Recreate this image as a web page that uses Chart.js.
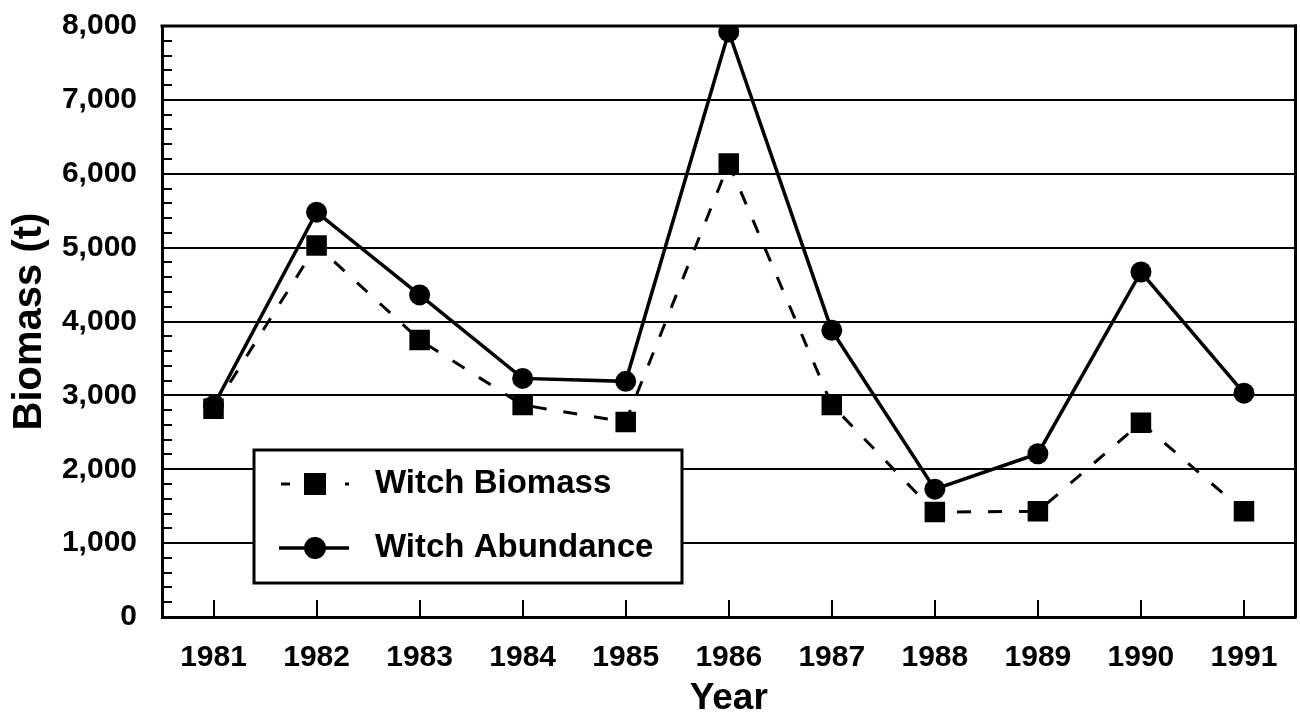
<!DOCTYPE html>
<html>
<head>
<meta charset="utf-8">
<script src="https://cdn.jsdelivr.net/npm/chart.js@4/dist/chart.umd.min.js"></script>
<style>
  html, body { margin: 0; padding: 0; background: #fff; overflow: hidden; }
  #wrap { width: 1300px; height: 721px; position: relative; overflow: hidden; }
</style>
</head>
<body>
<div id="wrap"><canvas id="c" width="1310" height="721"></canvas></div>
<script>
// ---- data ----
const years = ['1981','1982','1983','1984','1985','1986','1987','1988','1989','1990','1991'];
const witchBiomass = [2820, 5030, 3750, 2870, 2640, 6140, 2870, 1420, 1430, 2630, 1430];
const witchAbundance = [2860, 5480, 4360, 3230, 3190, 7920, 3880, 1730, 2210, 4670, 3030];
const yTicks = [0, 1000, 2000, 3000, 4000, 5000, 6000, 7000, 8000];
const seriesNames = ['Witch Biomass', 'Witch Abundance'];

const FONT = '"Liberation Sans", Arial, Helvetica, sans-serif';

const frame = {
  id: 'frame',
  afterDatasetsDraw(chart) {
    const { ctx, chartArea: a, scales } = chart;
    ctx.save();
    ctx.strokeStyle = '#000';
    ctx.lineWidth = 3;
    ctx.beginPath();
    ctx.moveTo(a.right, a.top - 1.5);
    ctx.lineTo(a.right, a.bottom + 1.5);
    ctx.stroke();
    ctx.beginPath();
    ctx.moveTo(a.left - 1.5, a.top);
    ctx.lineTo(a.right + 1.5, a.top);
    ctx.stroke();
    ctx.lineWidth = 2;
    const y = scales.y;
    for (let v = 0; v <= yTicks[yTicks.length - 1]; v += 200) {
      const py = Math.round(y.getPixelForValue(v));
      ctx.beginPath();
      ctx.moveTo(a.left, py);
      ctx.lineTo(a.left + 10, py);
      ctx.stroke();
    }
    const x = scales.x;
    years.forEach((_, i) => {
      const px = Math.round(x.getPixelForValue(i));
      ctx.beginPath();
      ctx.moveTo(px, a.bottom);
      ctx.lineTo(px, a.bottom - 17);
      ctx.stroke();
    });
    ctx.restore();
  }
};

const legendBox = {
  id: 'legendBox',
  afterDatasetsDraw(chart) {
    const { ctx } = chart;
    const L = 254, T = 450, R = 682, B = 583;
    ctx.save();
    ctx.fillStyle = '#fff';
    ctx.fillRect(L, T, R - L, B - T);
    ctx.strokeStyle = '#000';
    ctx.lineWidth = 3;
    ctx.strokeRect(L, T, R - L, B - T);

    const row1 = 484, row2 = 548;
    ctx.lineWidth = 3;
    ctx.setLineDash([9, 23]);
    ctx.beginPath();
    ctx.moveTo(281, row1);
    ctx.lineTo(349, row1);
    ctx.stroke();
    ctx.setLineDash([]);
    ctx.fillStyle = '#000';
    ctx.fillRect(304, row1 - 11, 22, 22);
    ctx.lineWidth = 3.5;
    ctx.beginPath();
    ctx.moveTo(279, row2);
    ctx.lineTo(349, row2);
    ctx.stroke();
    ctx.beginPath();
    ctx.arc(315, row2, 11, 0, Math.PI * 2);
    ctx.fill();

    ctx.font = 'bold 33px ' + FONT;
    ctx.textBaseline = 'middle';
    ctx.textAlign = 'left';
    ctx.fillText(seriesNames[0], 375, row1);
    ctx.fillText(seriesNames[1], 375, row2);
    ctx.restore();
  }
};

new Chart(document.getElementById('c'), {
  type: 'line',
  data: {
    labels: years,
    datasets: [
      {
        label: seriesNames[0],
        data: witchBiomass,
        borderColor: '#000',
        backgroundColor: '#000',
        borderWidth: 3,
        borderDash: [14, 17],
        pointStyle: 'rect',
        pointRadius: 14.5,
        pointBorderWidth: 0,
        pointBackgroundColor: '#000',
        tension: 0,
        fill: false
      },
      {
        label: seriesNames[1],
        data: witchAbundance,
        borderColor: '#000',
        backgroundColor: '#000',
        borderWidth: 3.5,
        pointStyle: 'circle',
        pointRadius: 10.5,
        pointBorderWidth: 0,
        pointBackgroundColor: '#000',
        tension: 0,
        fill: false
      }
    ]
  },
  options: {
    responsive: false,
    animation: false,
    events: [],
    layout: { padding: { top: 26, right: 5, left: 0, bottom: 0 } },
    plugins: {
      legend: { display: false },
      tooltip: { enabled: false },
      title: { display: false }
    },
    scales: {
      x: {
        type: 'category',
        offset: true,
        grid: { display: false, drawTicks: false },
        border: { display: true, color: '#000', width: 3 },
        ticks: {
          color: '#000',
          font: { family: FONT, size: 30, weight: 'bold', lineHeight: 1 },
          padding: 26,
          maxRotation: 0,
          autoSkip: false
        },
        title: {
          display: true,
          text: 'Year',
          color: '#000',
          font: { family: FONT, size: 37, weight: 'bold', lineHeight: 1 },
          padding: { top: 0, bottom: 4 }
        },
        afterFit(scale) {
          scale.height = 104;
          scale.paddingLeft = 0;
          scale.paddingRight = 0;
        }
      },
      y: {
        min: 0,
        max: 8000,
        afterBuildTicks(scale) { scale.ticks = yTicks.map(v => ({ value: v })); },
        grid: { color: '#000', lineWidth: 2, drawTicks: false },
        border: { display: true, color: '#000', width: 3 },
        ticks: {
          color: '#000',
          font: { family: FONT, size: 30, weight: 'bold', lineHeight: 1 },
          padding: 25,
          callback: v => v.toLocaleString('en-US')
        },
        title: {
          display: true,
          text: 'Biomass (t)',
          color: '#000',
          font: { family: FONT, size: 40, weight: 'bold', lineHeight: 1 },
          padding: { top: 10, bottom: 0 }
        },
        afterFit(scale) {
          scale.width = 162;
          scale.paddingTop = 0;
          scale.paddingBottom = 0;
        }
      }
    }
  },
  plugins: [frame, legendBox]
});
</script>
</body>
</html>
